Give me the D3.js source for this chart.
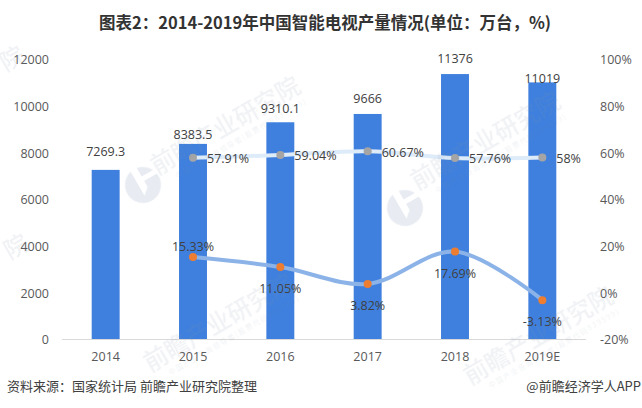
<!DOCTYPE html>
<html>
<head>
<meta charset="utf-8">
<script src="https://cdn.jsdelivr.net/npm/d3@7"></script>
<style>
html, body { margin: 0; padding: 0; background: #fff; }
svg { display: block; }
text { font-family: "Open Sans", "Noto Sans CJK SC", sans-serif; }
</style>
</head>
<body>
<div id="chart"></div>
<script>
var years = ["2014", "2015", "2016", "2017", "2018", "2019E"];
var output = [7269.3, 8383.5, 9310.1, 9666, 11376, 11019];
var outputLabels = ["7269.3", "8383.5", "9310.1", "9666", "11376", "11019"];
var shareYears = ["2015", "2016", "2017", "2018", "2019E"];
var share = [57.91, 59.04, 60.67, 57.76, 58];
var shareLabels = ["57.91%", "59.04%", "60.67%", "57.76%", "58%"];
var growth = [15.33, 11.05, 3.82, 17.69, -3.13];
var growthLabels = ["15.33%", "11.05%", "3.82%", "17.69%", "-3.13%"];
var leftTicks = [0, 2000, 4000, 6000, 8000, 10000, 12000];
var rightTicks = [-20, 0, 20, 40, 60, 80, 100];

var width = 642, height = 408;
var textColor = "#595959";
var labelColor = "#404040";
var cjk = '"Noto Sans CJK SC", sans-serif';

var svg = d3.select("#chart").append("svg")
    .attr("width", width)
    .attr("height", height);

var x = d3.scaleBand().domain(years).range([62, 586]).paddingInner(0.68).paddingOuter(0.34);
var yLeft = d3.scaleLinear().domain([0, 12000]).range([339.5, 59.5]);
var yRight = d3.scaleLinear().domain([-20, 100]).range([339.5, 59.5]);
var cx = function (d) { return x(d) + x.bandwidth() / 2; };

// bars
svg.append("g").selectAll("rect")
    .data(output)
    .join("rect")
    .attr("x", function (d, i) { return x(years[i]); })
    .attr("y", function (d) { return yLeft(d); })
    .attr("width", x.bandwidth())
    .attr("height", function (d) { return yLeft(0) - yLeft(d); })
    .attr("fill", "#3f80de");

// axes
var axisLeft = d3.axisLeft(yLeft).tickValues(leftTicks).tickFormat(d3.format("d")).tickSize(0).tickPadding(0);
var axisRight = d3.axisRight(yRight).tickValues(rightTicks)
    .tickFormat(function (d) { return d + "%"; }).tickSize(0).tickPadding(0);
var axisBottom = d3.axisBottom(x).tickSize(0).tickPadding(0);

var gl = svg.append("g").attr("transform", "translate(49,0)").call(axisLeft);
var gr = svg.append("g").attr("transform", "translate(600,0)").call(axisRight);
var gb = svg.append("g").attr("transform", "translate(0,339.5)").call(axisBottom);
[gl, gr, gb].forEach(function (g) {
    g.selectAll(".domain").remove();
    g.selectAll("text")
        .attr("font-family", null)
        .style("font-size", "12.5px")
        .attr("fill", textColor);
});
gl.selectAll("text").attr("dy", "0.35em");
gr.selectAll("text").attr("dy", "0.35em");
gb.selectAll("text").attr("y", 13).attr("dy", "0.71em");
svg.append("line")
    .attr("x1", 62).attr("x2", 586)
    .attr("y1", 339.5).attr("y2", 339.5)
    .attr("stroke", "#d9d9d9");

// lines
var line = function (values) {
    return d3.line()
        .x(function (d, i) { return cx(shareYears[i]); })
        .y(function (d) { return yRight(d); })
        .curve(d3.curveCatmullRom.alpha(0.5))(values);
};

svg.append("path").attr("d", line(share))
    .attr("fill", "none").attr("stroke", "#deebf9").attr("stroke-width", 4);
svg.append("path").attr("d", line(growth))
    .attr("fill", "none").attr("stroke", "#8cb3e8").attr("stroke-width", 4);

svg.append("g").selectAll("circle").data(share).join("circle")
    .attr("cx", function (d, i) { return cx(shareYears[i]); })
    .attr("cy", function (d) { return yRight(d); })
    .attr("r", 4).attr("fill", "#a5a5a5");
svg.append("g").selectAll("circle").data(growth).join("circle")
    .attr("cx", function (d, i) { return cx(shareYears[i]); })
    .attr("cy", function (d) { return yRight(d); })
    .attr("r", 4).attr("fill", "#ed7d31");

// data labels, each sits a little differently in the original
var outputGap = [18, 9, 14, 15, 15, 4];
var growthGap = [-10, 22, 22, 22, 21];

svg.append("g").selectAll("text").data(output).join("text")
    .attr("x", function (d, i) { return cx(years[i]); })
    .attr("y", function (d, i) { return yLeft(d) - outputGap[i]; })
    .attr("dy", "0.35em").attr("text-anchor", "middle")
    .attr("font-size", 12.5).attr("fill", labelColor)
    .text(function (d, i) { return outputLabels[i]; });

svg.append("g").selectAll("text").data(share).join("text")
    .attr("x", function (d, i) { return cx(shareYears[i]) + 14; })
    .attr("y", function (d) { return yRight(d) + 1; })
    .attr("dy", "0.35em")
    .attr("font-size", 12.5).attr("fill", labelColor)
    .text(function (d, i) { return shareLabels[i]; });

svg.append("g").selectAll("text").data(growth).join("text")
    .attr("x", function (d, i) { return cx(shareYears[i]); })
    .attr("y", function (d, i) { return yRight(d) + growthGap[i]; })
    .attr("dy", "0.35em").attr("text-anchor", "middle")
    .attr("font-size", 12.5).attr("fill", labelColor)
    .text(function (d, i) { return growthLabels[i]; });

// title and footer
svg.append("text")
    .attr("x", 325).attr("y", 29)
    .attr("text-anchor", "middle")
    .style("font-family", cjk)
    .attr("font-size", 16.5).attr("font-weight", 700).attr("fill", "#333")
    .text("图表2：2014-2019年中国智能电视产量情况(单位：万台，%)");
svg.append("text")
    .attr("x", 7).attr("y", 391)
    .style("font-family", cjk)
    .attr("font-size", 13).attr("fill", labelColor)
    .text("资料来源：国家统计局 前瞻产业研究院整理");
svg.append("text")
    .attr("x", 641).attr("y", 391)
    .attr("text-anchor", "end")
    .style("font-family", cjk)
    .attr("font-size", 13).attr("fill", labelColor)
    .text("@前瞻经济学人APP");

// watermark
var wm = svg.append("g").attr("fill", "#7f8fa6").attr("opacity", 0.12);
var stamps = [[157, 175], [417, 190], [150, 372], [470, 385]];
var stamp = wm.selectAll("g.stamp").data(stamps).join("g")
    .attr("class", "stamp")
    .attr("transform", function (d) { return "translate(" + d[0] + "," + d[1] + ") rotate(-30)"; });
stamp.append("text")
    .style("font-family", cjk)
    .attr("font-size", 24).attr("font-weight", 500)
    .text("前瞻产业研究院");
stamp.append("text")
    .attr("x", 16).attr("y", 13)
    .style("font-family", cjk)
    .attr("font-size", 7)
    .attr("letter-spacing", 1.5)
    .text("中国产业咨询领导者(股票代码839599)");

// edge stamps, only the last character shows
wm.selectAll("text.edge").data([[6, 72], [10, 260]]).join("text")
    .attr("class", "edge")
    .attr("transform", function (d) { return "translate(" + d[0] + "," + d[1] + ") rotate(-30)"; })
    .style("font-family", cjk)
    .attr("font-size", 24).attr("font-weight", 500)
    .text("院");

// logo, a pale disc with a white notch
var logo = svg.append("g").selectAll("g").data([[143, 185], [405, 208]]).join("g")
    .attr("transform", function (d) { return "translate(" + d[0] + "," + d[1] + ") rotate(-30)"; });
logo.append("circle").attr("r", 18).attr("fill", "#e8ecf2");
logo.append("path").attr("d", "M-4,-19 L3,-19 L3,4 L-4,10 Z").attr("fill", "#fff");
logo.append("path").attr("d", "M3,-8 L19,-8 L19,-3 L3,-3 Z").attr("fill", "#fff");
</script>
</body>
</html>
